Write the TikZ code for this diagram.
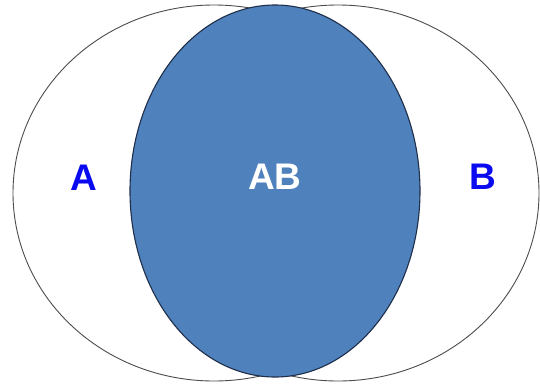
\documentclass[tikz,border=0pt]{standalone}
\usepackage{fontspec}
\setmainfont{Liberation Sans}
\begin{document}
\begin{tikzpicture}[x=1pt,y=-1pt,
  setline/.style={draw=black!70,line width=0.9pt},
  lens/.style={fill=blueFill,draw=blueEdge,line width=1.1pt},
  lbl/.style={font=\fontsize{37}{37}\selectfont\bfseries,inner sep=0pt,anchor=base}]
\definecolor{blueFill}{HTML}{4F81BD}
\definecolor{blueEdge}{HTML}{1F2F4A}
\definecolor{lblBlue}{HTML}{0A0AF0}
\useasboundingbox (0,0) rectangle (540,388);
\fill[white] (0,0) rectangle (540,388);
\draw[setline] (214,193) ellipse [x radius=201, y radius=188];
\draw[setline] (338,193) ellipse [x radius=201, y radius=188];
\draw[lens] (275,191) ellipse [x radius=145, y radius=186];
\node[lbl,text=lblBlue] (A) at (84,190) {A};
\node[lbl,text=lblBlue] (B) at (483,189) {B};
\node[lbl,text=white] (AB) at (275,189) {AB};
\end{tikzpicture}
\end{document}
